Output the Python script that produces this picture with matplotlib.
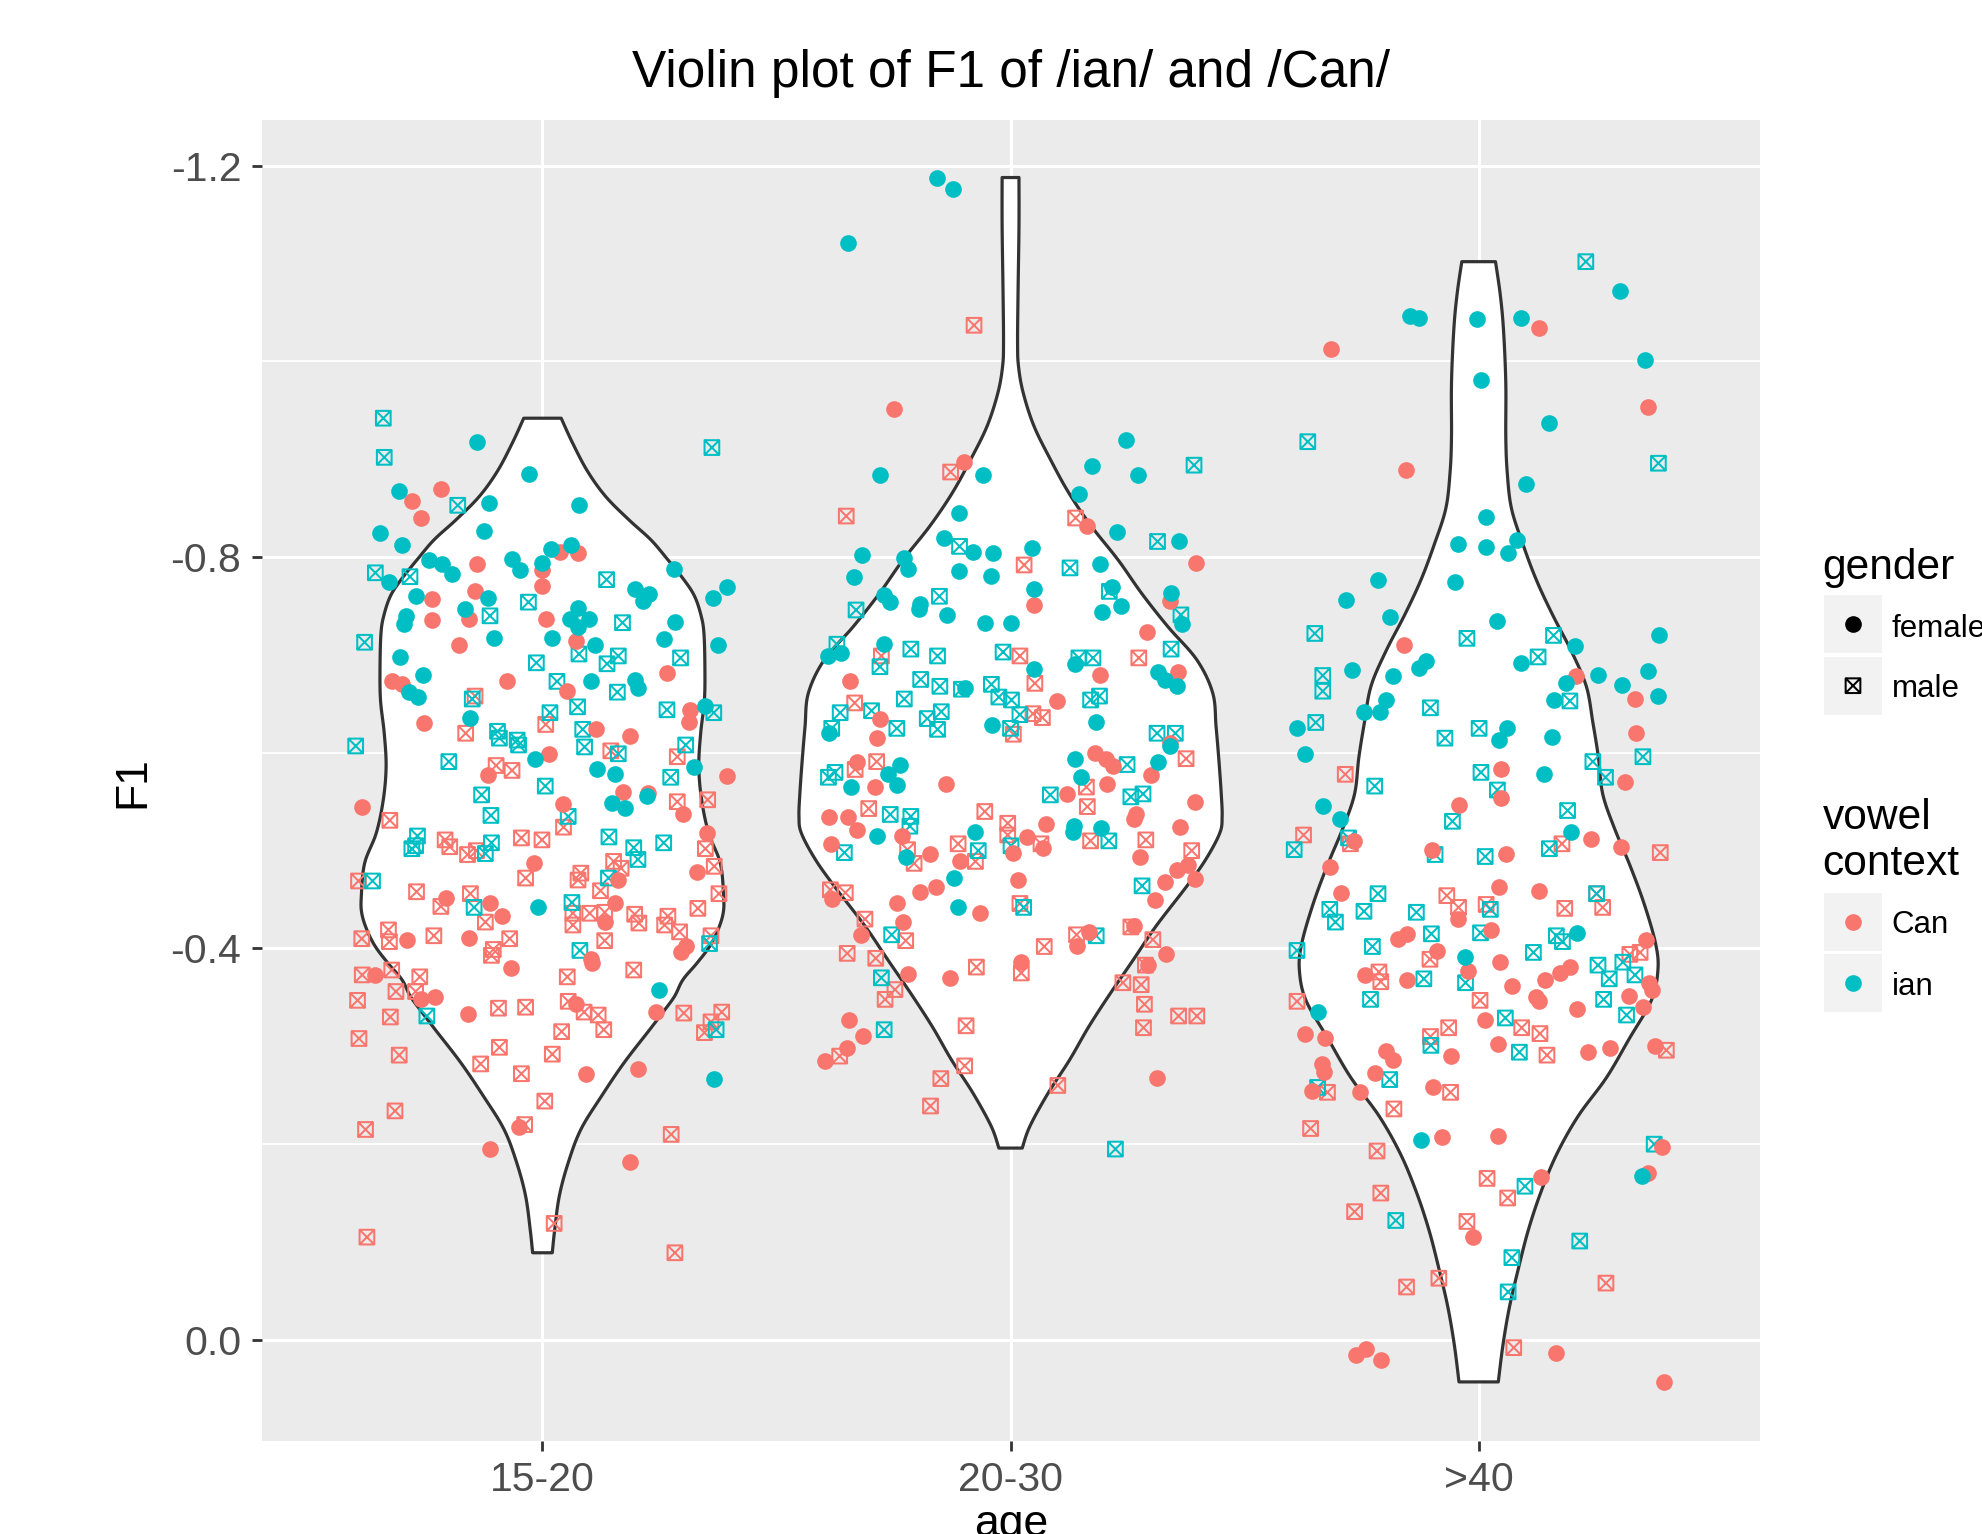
import numpy as np
import matplotlib
matplotlib.use("Agg")
import matplotlib.pyplot as plt
from matplotlib.path import Path
from matplotlib.patches import Rectangle

plt.rcParams["font.family"] = ["Liberation Sans", "DejaVu Sans"]

AGES = ["15-20", "20-30", ">40"]
CAN_COL = "#F8766D"
IAN_COL = "#00BFC4"

# violin outlines: F1 level -> half width (category units)
V1_F1 = [-0.942, -0.917, -0.888, -0.862, -0.838, -0.818, -0.799, -0.777, -0.760, -0.740,
         -0.722, -0.688, -0.654, -0.620, -0.586, -0.552, -0.518, -0.487, -0.453, -0.436,
         -0.419, -0.402, -0.385, -0.368, -0.351, -0.334, -0.317, -0.283, -0.249, -0.215,
         -0.181, -0.147, -0.112, -0.089]
V1_HW = [0.040, 0.064, 0.096, 0.135, 0.185, 0.231, 0.265, 0.302, 0.325, 0.339,
         0.345, 0.347, 0.346, 0.338, 0.334, 0.340, 0.355, 0.380, 0.387, 0.386,
         0.375, 0.357, 0.330, 0.300, 0.282, 0.256, 0.229, 0.174, 0.126, 0.082,
         0.055, 0.036, 0.026, 0.021]
V2_F1 = [-1.188, -1.138, -1.070, -1.019, -0.995, -0.968, -0.934, -0.900, -0.866, -0.832,
         -0.797, -0.763, -0.729, -0.695, -0.661, -0.627, -0.593, -0.559, -0.535, -0.518,
         -0.491, -0.464, -0.423, -0.389, -0.354, -0.320, -0.286, -0.252, -0.218, -0.196]
V2_HW = [0.018, 0.018, 0.016, 0.015, 0.017, 0.027, 0.050, 0.085, 0.124, 0.172,
         0.230, 0.280, 0.336, 0.398, 0.432, 0.439, 0.445, 0.450, 0.452, 0.447,
         0.417, 0.377, 0.311, 0.263, 0.213, 0.167, 0.126, 0.080, 0.041, 0.025]
V3_F1 = [-1.102, -1.069, -1.033, -0.978, -0.923, -0.887, -0.850, -0.814, -0.777, -0.741,
         -0.704, -0.668, -0.631, -0.595, -0.558, -0.523, -0.484, -0.445, -0.405, -0.378,
         -0.347, -0.308, -0.268, -0.229, -0.190, -0.151, -0.112, -0.073, -0.034, 0.005, 0.043]
V3_HW = [0.036, 0.046, 0.053, 0.058, 0.058, 0.061, 0.070, 0.094, 0.123, 0.158,
         0.198, 0.230, 0.244, 0.256, 0.265, 0.290, 0.324, 0.354, 0.378, 0.383,
         0.369, 0.322, 0.273, 0.213, 0.167, 0.133, 0.106, 0.085, 0.066, 0.052, 0.042]

# points: (jitter offset, F1)
A1_IAN_F = [(-0.140, -0.918), (-0.028, -0.885), (-0.306, -0.868), (-0.114, -0.855), (0.078, -0.853),
            (-0.347, -0.825), (-0.124, -0.827), (-0.299, -0.812), (0.018, -0.808), (0.060, -0.812),
            (-0.242, -0.797), (-0.215, -0.793), (-0.193, -0.783), (-0.066, -0.798), (-0.047, -0.787),
            (-0.001, -0.794), (-0.328, -0.775), (0.282, -0.788), (0.198, -0.767), (0.227, -0.762),
            (0.215, -0.755), (0.364, -0.758), (0.394, -0.769), (-0.271, -0.760), (-0.117, -0.758),
            (-0.166, -0.747), (-0.292, -0.740), (-0.295, -0.732), (0.075, -0.748), (0.059, -0.737),
            (0.100, -0.737), (0.075, -0.729), (0.284, -0.734), (-0.103, -0.717), (0.021, -0.717),
            (0.113, -0.710), (0.260, -0.716), (0.374, -0.710), (-0.305, -0.698), (-0.256, -0.680),
            (-0.286, -0.662), (-0.266, -0.657), (0.104, -0.673), (0.198, -0.674), (0.204, -0.666),
            (0.348, -0.648), (-0.154, -0.636), (0.323, -0.585), (-0.016, -0.594), (0.116, -0.583),
            (0.156, -0.578), (0.224, -0.556), (0.149, -0.549), (0.176, -0.544), (-0.009, -0.442),
            (0.249, -0.358), (0.366, -0.267)]
A1_CAN_F = [(-0.217, -0.870), (-0.279, -0.857), (-0.259, -0.840), (0.038, -0.805), (0.075, -0.804),
            (-0.139, -0.793), (-0.001, -0.787), (0.000, -0.771), (-0.145, -0.765), (-0.235, -0.757),
            (-0.156, -0.737), (-0.237, -0.736), (0.008, -0.737), (0.072, -0.714), (-0.178, -0.710),
            (-0.322, -0.673), (-0.301, -0.670), (-0.075, -0.673), (0.052, -0.663), (0.265, -0.682),
            (0.316, -0.644), (0.313, -0.632), (-0.252, -0.630), (0.115, -0.624), (0.188, -0.617),
            (0.394, -0.576), (0.015, -0.599), (-0.116, -0.577), (0.171, -0.560), (0.226, -0.559),
            (0.301, -0.537), (0.044, -0.548), (-0.385, -0.545), (0.351, -0.518), (0.330, -0.478),
            (-0.019, -0.487), (0.161, -0.470), (-0.206, -0.452), (-0.112, -0.447), (-0.087, -0.433),
            (0.133, -0.427), (0.156, -0.447), (-0.289, -0.409), (-0.156, -0.411), (0.104, -0.389),
            (0.106, -0.385), (0.306, -0.403), (0.297, -0.396), (-0.357, -0.373), (-0.259, -0.348),
            (-0.230, -0.350), (-0.067, -0.380), (-0.158, -0.333), (0.072, -0.343), (0.242, -0.335),
            (0.092, -0.272), (0.205, -0.277), (-0.050, -0.218), (-0.111, -0.195), (0.188, -0.182)]
A1_IAN_M = [(-0.340, -0.942), (-0.338, -0.902), (-0.181, -0.853), (0.362, -0.912), (-0.357, -0.784),
            (-0.283, -0.780), (0.137, -0.777), (-0.030, -0.754), (-0.112, -0.740), (0.171, -0.733),
            (-0.380, -0.713), (0.078, -0.701), (-0.013, -0.692), (0.138, -0.691), (0.162, -0.699),
            (0.295, -0.697), (0.031, -0.673), (0.160, -0.662), (-0.150, -0.655), (0.016, -0.641),
            (0.075, -0.647), (0.266, -0.644), (0.366, -0.641), (-0.096, -0.622), (-0.092, -0.615),
            (-0.054, -0.613), (-0.051, -0.608), (0.086, -0.624), (-0.399, -0.607), (0.090, -0.606),
            (0.162, -0.599), (0.306, -0.608), (-0.200, -0.591), (0.274, -0.575), (0.006, -0.566),
            (-0.130, -0.557), (0.055, -0.535), (-0.110, -0.536), (-0.267, -0.515), (-0.279, -0.502),
            (-0.271, -0.505), (-0.109, -0.508), (-0.122, -0.497), (0.142, -0.514), (0.195, -0.503),
            (0.204, -0.491), (0.259, -0.508), (0.141, -0.472), (-0.363, -0.469), (-0.146, -0.442),
            (0.063, -0.447), (0.080, -0.398), (0.357, -0.405), (-0.247, -0.331), (0.371, -0.317)]
A1_CAN_M = [(-0.144, -0.658), (0.007, -0.629), (-0.164, -0.620), (0.146, -0.602), (0.288, -0.596),
            (-0.099, -0.587), (-0.065, -0.582), (0.288, -0.550), (0.353, -0.552), (-0.326, -0.531),
            (0.045, -0.524), (-0.208, -0.511), (-0.198, -0.504), (-0.160, -0.496), (-0.141, -0.500),
            (-0.045, -0.513), (-0.001, -0.511), (0.348, -0.502), (0.367, -0.484), (-0.036, -0.472),
            (0.152, -0.489), (0.168, -0.482), (0.082, -0.477), (0.076, -0.470), (0.124, -0.459),
            (-0.393, -0.469), (-0.269, -0.458), (-0.217, -0.443), (-0.154, -0.456), (0.065, -0.436),
            (0.101, -0.436), (0.133, -0.437), (0.197, -0.435), (0.206, -0.426), (0.268, -0.433),
            (0.261, -0.424), (0.293, -0.417), (0.332, -0.441), (0.377, -0.456), (0.065, -0.424),
            (-0.122, -0.427), (-0.386, -0.410), (-0.329, -0.419), (-0.327, -0.407), (-0.232, -0.413),
            (-0.070, -0.410), (-0.105, -0.399), (-0.109, -0.393), (0.133, -0.408), (0.360, -0.413),
            (-0.385, -0.373), (-0.322, -0.378), (-0.262, -0.371), (-0.313, -0.356), (-0.271, -0.356),
            (0.053, -0.371), (0.195, -0.378), (-0.395, -0.347), (-0.325, -0.330), (-0.094, -0.339),
            (-0.036, -0.340), (0.055, -0.346), (0.089, -0.335), (0.119, -0.332), (0.131, -0.317),
            (0.041, -0.315), (0.302, -0.334), (0.383, -0.335), (0.360, -0.325), (0.346, -0.314),
            (-0.392, -0.308), (-0.306, -0.291), (-0.092, -0.299), (-0.132, -0.282), (0.021, -0.292),
            (-0.045, -0.272), (0.005, -0.244), (-0.315, -0.234), (-0.378, -0.215), (-0.038, -0.220),
            (0.275, -0.210), (0.025, -0.119), (-0.375, -0.105), (0.283, -0.089)]

A2_IAN_F = [(-0.158, -1.188), (-0.124, -1.176), (-0.347, -1.121), (-0.059, -0.884), (-0.278, -0.884),
            (0.247, -0.920), (0.173, -0.893), (0.273, -0.884), (0.147, -0.865), (-0.110, -0.845),
            (0.227, -0.826), (0.360, -0.816), (-0.143, -0.820), (-0.080, -0.805), (-0.038, -0.804),
            (0.045, -0.809), (-0.317, -0.802), (-0.335, -0.780), (-0.227, -0.799), (-0.220, -0.788),
            (-0.110, -0.786), (-0.042, -0.781), (0.191, -0.793), (0.050, -0.767), (0.217, -0.769),
            (0.235, -0.750), (0.196, -0.744), (0.343, -0.763), (0.366, -0.732), (-0.270, -0.761),
            (-0.257, -0.754), (-0.194, -0.752), (-0.195, -0.747), (-0.136, -0.741), (-0.055, -0.733),
            (0.001, -0.733), (-0.391, -0.699), (-0.362, -0.702), (-0.270, -0.711), (0.050, -0.686),
            (-0.387, -0.620), (-0.098, -0.666), (-0.040, -0.628), (0.137, -0.691), (0.183, -0.632),
            (0.314, -0.683), (0.330, -0.674), (0.355, -0.668), (0.340, -0.607), (-0.236, -0.588),
            (-0.262, -0.578), (-0.242, -0.567), (-0.340, -0.565), (0.137, -0.594), (0.151, -0.575),
            (0.314, -0.591), (-0.286, -0.515), (-0.224, -0.494), (-0.077, -0.519), (0.135, -0.525),
            (0.134, -0.519), (0.194, -0.523), (-0.121, -0.472), (-0.113, -0.442)]
A2_CAN_F = [(-0.249, -0.951), (-0.100, -0.897), (0.163, -0.832), (0.397, -0.794), (0.050, -0.751),
            (0.341, -0.755), (0.291, -0.723), (-0.344, -0.673), (-0.279, -0.635), (-0.286, -0.615),
            (0.100, -0.653), (0.192, -0.680), (0.357, -0.683), (0.341, -0.610), (-0.328, -0.591),
            (-0.289, -0.565), (-0.138, -0.568), (0.181, -0.600), (0.203, -0.594), (0.219, -0.587),
            (0.299, -0.577), (0.207, -0.568), (0.121, -0.558), (0.394, -0.550), (0.267, -0.537),
            (0.263, -0.532), (0.363, -0.524), (-0.387, -0.534), (-0.347, -0.534), (-0.328, -0.521),
            (-0.384, -0.507), (-0.232, -0.515), (-0.172, -0.497), (-0.109, -0.489), (0.006, -0.498),
            (0.035, -0.514), (0.069, -0.503), (0.075, -0.527), (0.276, -0.494), (0.355, -0.480),
            (0.379, -0.485), (0.394, -0.471), (0.330, -0.468), (0.309, -0.450), (-0.160, -0.463),
            (-0.194, -0.458), (0.016, -0.470), (-0.066, -0.436), (-0.242, -0.446), (-0.381, -0.451),
            (-0.229, -0.427), (-0.320, -0.414), (-0.220, -0.374), (-0.130, -0.370), (0.023, -0.386),
            (0.167, -0.417), (0.142, -0.403), (0.263, -0.423), (0.332, -0.394), (0.293, -0.383),
            (-0.345, -0.327), (-0.316, -0.311), (-0.350, -0.298), (-0.397, -0.285), (0.313, -0.268)]
A2_IAN_M = [(0.392, -0.894), (0.314, -0.816), (-0.109, -0.811), (0.127, -0.789), (0.211, -0.765),
            (-0.152, -0.760), (0.364, -0.741), (-0.330, -0.746), (-0.371, -0.711), (-0.213, -0.706),
            (-0.156, -0.699), (-0.016, -0.703), (0.343, -0.706), (0.146, -0.697), (0.176, -0.697),
            (-0.279, -0.688), (-0.364, -0.641), (-0.297, -0.643), (-0.382, -0.625), (-0.243, -0.625),
            (-0.227, -0.655), (-0.192, -0.675), (-0.151, -0.668), (-0.105, -0.665), (-0.178, -0.635),
            (-0.148, -0.642), (-0.156, -0.624), (-0.041, -0.670), (-0.025, -0.657), (0.002, -0.654),
            (0.020, -0.639), (0.000, -0.625), (0.171, -0.654), (0.190, -0.658), (0.313, -0.620),
            (0.352, -0.620), (0.249, -0.588), (-0.389, -0.575), (-0.375, -0.580), (0.085, -0.557),
            (0.257, -0.555), (0.283, -0.558), (-0.257, -0.537), (-0.213, -0.535), (-0.215, -0.525),
            (-0.355, -0.498), (-0.069, -0.500), (0.001, -0.505), (0.210, -0.510), (0.281, -0.464),
            (0.028, -0.442), (-0.254, -0.414), (0.183, -0.413), (-0.276, -0.370), (-0.270, -0.317),
            (0.224, -0.195)]
A2_CAN_M = [(-0.078, -1.037), (-0.128, -0.887), (-0.351, -0.842), (0.139, -0.840), (0.029, -0.792),
            (-0.276, -0.699), (0.020, -0.699), (0.274, -0.697), (-0.333, -0.651), (0.052, -0.671),
            (0.048, -0.640), (0.068, -0.636), (0.006, -0.619), (0.375, -0.594), (-0.332, -0.583),
            (-0.286, -0.591), (0.162, -0.565), (0.164, -0.545), (-0.303, -0.543), (-0.220, -0.501),
            (-0.206, -0.487), (-0.055, -0.540), (-0.006, -0.528), (-0.006, -0.516), (-0.112, -0.507),
            (-0.075, -0.489), (0.065, -0.507), (0.171, -0.510), (0.289, -0.511), (0.387, -0.500),
            (0.020, -0.446), (-0.385, -0.460), (-0.353, -0.457), (-0.311, -0.430), (-0.224, -0.408),
            (-0.349, -0.395), (-0.288, -0.390), (-0.073, -0.381), (0.023, -0.375), (0.072, -0.402),
            (0.141, -0.414), (0.257, -0.422), (0.304, -0.409), (0.288, -0.383), (0.240, -0.365),
            (0.279, -0.363), (0.286, -0.343), (0.284, -0.319), (0.359, -0.331), (0.398, -0.331),
            (-0.247, -0.358), (-0.268, -0.348), (-0.365, -0.290), (-0.095, -0.321), (-0.098, -0.280),
            (-0.149, -0.267), (-0.171, -0.239), (0.101, -0.260)]

A3_IAN_F = [(0.303, -1.072), (-0.146, -1.046), (-0.128, -1.044), (-0.004, -1.043), (0.090, -1.044),
            (0.356, -1.002), (0.006, -0.981), (0.150, -0.937), (0.102, -0.875), (0.016, -0.841),
            (-0.045, -0.813), (0.015, -0.810), (0.083, -0.818), (0.062, -0.804), (-0.050, -0.775),
            (-0.215, -0.777), (-0.284, -0.756), (-0.189, -0.739), (0.040, -0.735), (0.205, -0.709),
            (0.385, -0.720), (0.091, -0.692), (-0.113, -0.694), (-0.127, -0.687), (-0.270, -0.685),
            (-0.183, -0.679), (0.186, -0.671), (0.254, -0.680), (0.362, -0.684), (0.306, -0.669),
            (0.384, -0.658), (0.160, -0.654), (-0.198, -0.654), (-0.244, -0.642), (-0.210, -0.642),
            (-0.388, -0.625), (0.061, -0.625), (0.043, -0.613), (0.156, -0.616), (-0.372, -0.599),
            (0.139, -0.578), (-0.333, -0.546), (-0.297, -0.532), (0.198, -0.519), (0.210, -0.416),
            (-0.029, -0.391), (-0.343, -0.335), (-0.124, -0.204), (0.349, -0.167)]
A3_CAN_F = [(0.129, -1.034), (-0.315, -1.013), (0.362, -0.953), (-0.156, -0.889), (-0.160, -0.710),
            (0.209, -0.679), (0.335, -0.655), (0.337, -0.620), (0.048, -0.583), (0.312, -0.570),
            (0.048, -0.554), (-0.318, -0.483), (-0.041, -0.547), (-0.099, -0.501), (0.058, -0.497),
            (0.239, -0.512), (0.304, -0.504), (-0.267, -0.510), (-0.294, -0.457), (-0.045, -0.430),
            (0.043, -0.463), (0.130, -0.459), (0.026, -0.419), (-0.173, -0.410), (-0.154, -0.415),
            (-0.088, -0.397), (-0.022, -0.377), (0.045, -0.386), (0.358, -0.409), (0.364, -0.365),
            (0.371, -0.358), (0.195, -0.381), (0.173, -0.375), (0.141, -0.368), (0.072, -0.362),
            (-0.242, -0.373), (-0.153, -0.368), (0.122, -0.350), (0.129, -0.346), (0.211, -0.338),
            (0.321, -0.351), (0.351, -0.340), (0.014, -0.327), (-0.058, -0.290), (0.041, -0.302),
            (0.234, -0.294), (0.281, -0.298), (0.376, -0.300), (-0.372, -0.313), (-0.328, -0.309),
            (-0.198, -0.295), (-0.184, -0.286), (-0.335, -0.282), (-0.331, -0.274), (-0.221, -0.273),
            (-0.356, -0.254), (-0.254, -0.253), (-0.098, -0.258), (-0.079, -0.207), (0.041, -0.208),
            (0.392, -0.197), (0.362, -0.171), (0.133, -0.166), (-0.011, -0.105), (0.166, 0.013),
            (-0.241, 0.009), (-0.262, 0.016), (-0.209, 0.021), (0.396, 0.043)]
A3_IAN_M = [(0.229, -1.102), (-0.365, -0.918), (0.384, -0.896), (-0.350, -0.722), (-0.025, -0.717),
            (0.160, -0.720), (0.127, -0.698), (-0.333, -0.679), (-0.333, -0.663), (0.195, -0.653),
            (-0.103, -0.646), (-0.348, -0.631), (-0.072, -0.615), (0.001, -0.625), (0.244, -0.591),
            (0.351, -0.596), (0.005, -0.580), (0.271, -0.575), (-0.222, -0.566), (0.040, -0.562),
            (-0.394, -0.501), (-0.278, -0.513), (-0.056, -0.530), (-0.093, -0.496), (0.014, -0.494),
            (0.190, -0.541), (0.151, -0.502), (-0.215, -0.456), (-0.318, -0.440), (-0.306, -0.427),
            (-0.245, -0.438), (-0.133, -0.437), (0.025, -0.440), (0.252, -0.456), (0.004, -0.416),
            (-0.101, -0.415), (-0.227, -0.402), (-0.388, -0.398), (-0.028, -0.365), (0.117, -0.396),
            (0.166, -0.413), (0.179, -0.407), (0.255, -0.383), (0.308, -0.386), (0.279, -0.369),
            (0.334, -0.373), (-0.117, -0.369), (-0.231, -0.348), (0.267, -0.348), (0.316, -0.332),
            (0.057, -0.329), (-0.102, -0.301), (0.087, -0.294), (-0.190, -0.266), (-0.344, -0.258),
            (0.375, -0.200), (0.099, -0.157), (-0.177, -0.122), (0.216, -0.101), (0.071, -0.084),
            (0.063, -0.049)]
A3_CAN_M = [(-0.285, -0.578), (-0.374, -0.516), (-0.274, -0.507), (0.178, -0.507), (0.388, -0.498),
            (-0.068, -0.454), (-0.043, -0.442), (0.016, -0.445), (0.184, -0.441), (0.252, -0.456),
            (0.265, -0.442), (-0.104, -0.389), (0.323, -0.394), (0.345, -0.396), (-0.213, -0.376),
            (-0.209, -0.366), (-0.388, -0.346), (0.003, -0.347), (0.092, -0.319), (0.131, -0.313),
            (-0.064, -0.319), (-0.103, -0.310), (0.146, -0.291), (0.401, -0.296), (-0.323, -0.253),
            (-0.060, -0.253), (-0.181, -0.236), (-0.359, -0.216), (-0.217, -0.193), (0.018, -0.165),
            (0.062, -0.145), (-0.209, -0.150), (-0.265, -0.131), (-0.025, -0.121), (0.272, -0.058),
            (-0.085, -0.063), (-0.154, -0.054), (0.075, 0.008)]

GROUPS = [
    (V1_F1, V1_HW, A1_CAN_F, A1_IAN_F, A1_CAN_M, A1_IAN_M),
    (V2_F1, V2_HW, A2_CAN_F, A2_IAN_F, A2_CAN_M, A2_IAN_M),
    (V3_F1, V3_HW, A3_CAN_F, A3_IAN_F, A3_CAN_M, A3_IAN_M),
]

# square with a cross (ggplot shape 7)
SQX = Path([(-1, -1), (1, -1), (1, 1), (-1, 1), (-1, -1), (-1, -1), (1, 1), (-1, 1), (1, -1)],
           [Path.MOVETO, Path.LINETO, Path.LINETO, Path.LINETO, Path.CLOSEPOLY,
            Path.MOVETO, Path.LINETO, Path.MOVETO, Path.LINETO])
DOT_S = 144
BOX_S = 112
BOX_LW = 1.45


def catmull(pts, n=8):
    # smooth the outline through the read points
    pts = np.asarray(pts, float)
    p = np.vstack([pts[0], pts, pts[-1]])
    out = []
    t = np.linspace(0, 1, n, endpoint=False)[:, None]
    for i in range(1, len(p) - 2):
        p0, p1, p2, p3 = p[i - 1], p[i], p[i + 1], p[i + 2]
        out.append(0.5 * (2 * p1 + (-p0 + p2) * t + (2 * p0 - 5 * p1 + 4 * p2 - p3) * t ** 2
                          + (-p0 + 3 * p1 - 3 * p2 + p3) * t ** 3))
    out.append(pts[-1:])
    return np.vstack(out)


W, H = 1982, 1534
fig = plt.figure(figsize=(W / 100, H / 100), dpi=100)
ax = fig.add_axes([261.6 / W, 1 - 1441 / H, (1759.5 - 261.6) / W, (1441 - 120) / H])
ax.set_facecolor("#EBEBEB")
for sp in ax.spines.values():
    sp.set_visible(False)
ax.set_xlim(0.4, 3.6)
ax.set_ylim(0.1034, -1.2468)
ax.set_xticks([1, 2, 3])
ax.set_xticklabels(AGES)
ax.set_yticks([-1.2, -0.8, -0.4, 0.0])
ax.set_yticklabels(["-1.2", "-0.8", "-0.4", "0.0"])
ax.set_yticks([-1.0, -0.6, -0.2], minor=True)
ax.grid(which="major", color="white", lw=2.2)
ax.grid(which="minor", axis="y", color="white", lw=1.3)
ax.set_axisbelow(True)
ax.tick_params(which="major", length=7.4, width=2.0, color="#333333",
               labelsize=29.5, labelcolor="#4D4D4D")
ax.tick_params(axis="y", pad=7.2)
ax.tick_params(axis="x", pad=7.2)
ax.tick_params(which="minor", length=0)

for i, (vf, vw, can_f, ian_f, can_m, ian_m) in enumerate(GROUPS):
    c = i + 1
    sm = catmull(list(zip(vf, vw)))
    ys, ws = sm[:, 0], sm[:, 1]
    ax.fill(np.concatenate([c - ws, (c + ws)[::-1]]), np.concatenate([ys, ys[::-1]]),
            facecolor="white", edgecolor="#333333", lw=2.3, zorder=2, joinstyle="round")
    for data, col in ((can_m, CAN_COL), (ian_m, IAN_COL)):
        a = np.array(data)
        ax.scatter(c + a[:, 0], a[:, 1], s=BOX_S, marker=SQX, facecolors="none",
                   edgecolors=col, linewidths=BOX_LW, zorder=3)
    for data, col in ((can_f, CAN_COL), (ian_f, IAN_COL)):
        a = np.array(data)
        ax.scatter(c + a[:, 0], a[:, 1], s=DOT_S, marker="o", color=col, lw=0, zorder=3)

# titles
fig.text(1011 / W, 1 - 87 / H, "Violin plot of F1 of /ian/ and /Can/", ha="center",
         va="baseline", fontsize=37)
fig.text(1011 / W, 1 - 1536 / H, "age", ha="center", va="baseline", fontsize=32)
fig.text(133 / W, 1 - 782 / H, "F1", ha="center", va="center", rotation=90, fontsize=32)

# legend drawn in pixel coordinates on an overlay
lg = fig.add_axes([0, 0, 1, 1], zorder=5)
lg.set_xlim(0, W)
lg.set_ylim(H, 0)
lg.axis("off")
KEY_X, KEY_W = 1824, 58
lg.text(1822.7, 579.3, "gender", fontsize=30.6, va="baseline")
lg.text(1822.7, 829.3, "vowel", fontsize=30.6, va="baseline")
lg.text(1822.7, 875, "context", fontsize=30.6, va="baseline")
for top in (595.3, 656.7, 892.7, 954):
    lg.add_patch(Rectangle((KEY_X, top), KEY_W, KEY_W, facecolor="#F2F2F2", edgecolor="none"))
lg.scatter([KEY_X + KEY_W / 2], [624.3], s=DOT_S, marker="o", color="black", lw=0)
lg.scatter([KEY_X + KEY_W / 2], [685.7], s=BOX_S, marker=SQX, facecolors="none",
           edgecolors="black", linewidths=BOX_LW)
lg.scatter([KEY_X + KEY_W / 2], [921.7], s=DOT_S, marker="o", color=CAN_COL, lw=0)
lg.scatter([KEY_X + KEY_W / 2], [983], s=DOT_S, marker="o", color=IAN_COL, lw=0)
for y, lab in ((636.7, "female"), (696.7, "male"), (933.3, "Can"), (995, "ian")):
    lg.text(1891.7, y, lab, fontsize=22.5, va="baseline")

fig.savefig("out.png", dpi=100)
